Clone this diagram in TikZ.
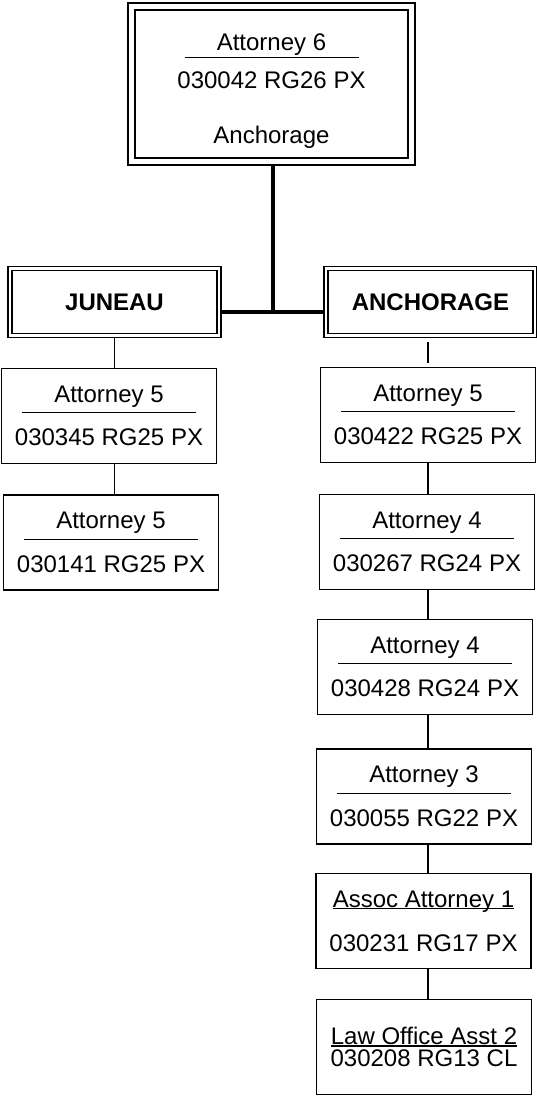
\documentclass[tikz,border=0pt]{standalone}
\usepackage{fontspec}
\setmainfont{Liberation Sans}
\setlength{\lineskiplimit}{-100pt}
\newlength{\ulwd}
\newcommand{\post}[2]{#1\\[-19pt]\rule[-1.3pt]{174pt}{1.3pt}\\[5pt]#2}
\newcommand{\ulined}[1]{\settowidth{\ulwd}{#1}\rlap{\rule[-2.2pt]{\ulwd}{1.3pt}}#1}

\begin{document}
\begin{tikzpicture}[x=1pt, y=-1pt,
    every node/.style={draw=black, align=center, font=\fontsize{24}{28.8}\selectfont},
    chief/.style={double, line width=2pt, double distance=5pt, outer sep=4.5pt, minimum width=280pt, minimum height=155pt},
    office/.style={double, line width=1.5pt, double distance=2.5pt, outer sep=2.75pt, minimum width=209pt, minimum height=67pt, font=\fontsize{24}{28.8}\selectfont\bfseries},
    post/.style={line width=1.5pt, minimum width=215pt, minimum height=95pt},
    link/.style={line width=1.5pt},
    trunk/.style={line width=3.5pt}]
\useasboundingbox (0,0) rectangle (537,1096);
\node[chief] (top) at (271.5,84) {\mbox{}\\[2.4pt]Attorney 6\\[-22.4pt]\rule[-1.3pt]{174pt}{1.3pt}\\[3pt]030042 RG26 PX\\[26pt]Anchorage};
\node[office] (jun) at (114.5,302) {JUNEAU};
\node[office] (anc) at (430.5,302) {ANCHORAGE};
\node[post] (j1) at (109,416) {\post{Attorney 5}{030345 RG25 PX}};
\node[post] (j2) at (111,542.5) {\post{Attorney 5}{030141 RG25 PX}};
\node[post] (a1) at (428,415) {\post{Attorney 5}{030422 RG25 PX}};
\node[post] (a2) at (427,542) {\post{Attorney 4}{030267 RG24 PX}};
\node[post] (a3) at (425,667) {\post{Attorney 4}{030428 RG24 PX}};
\node[post] (a4) at (424,796.5) {\post{Attorney 3}{030055 RG22 PX}};
\node[post] (a5) at (423.5,921) {\ulined{Assoc Attorney 1}\\[15.2pt]030231 RG17 PX};
\node[post] (a6) at (424,1047) {\ulined{Law Office Asst 2}\\[-6.8pt]030208 RG13 CL};
\coordinate (hub) at (273,312);
\draw[trunk] (top.south -| hub) -- (hub);
\draw[trunk] (jun.east |- hub) -- (anc.west |- hub);
\draw[link] (jun.south) -- (jun.south |- j1.north);
\draw[link] (jun.south |- j1.south) -- (jun.south |- j2.north);
\draw[link, shorten <=4pt, shorten >=4pt] (anc.south -| a1.north) -- (a1.north);
\foreach \u/\v in {a1/a2, a2/a3, a3/a4, a4/a5, a5/a6}
  \draw[link] (a1.south |- \u.south) -- (a1.south |- \v.north);
\end{tikzpicture}
\end{document}
